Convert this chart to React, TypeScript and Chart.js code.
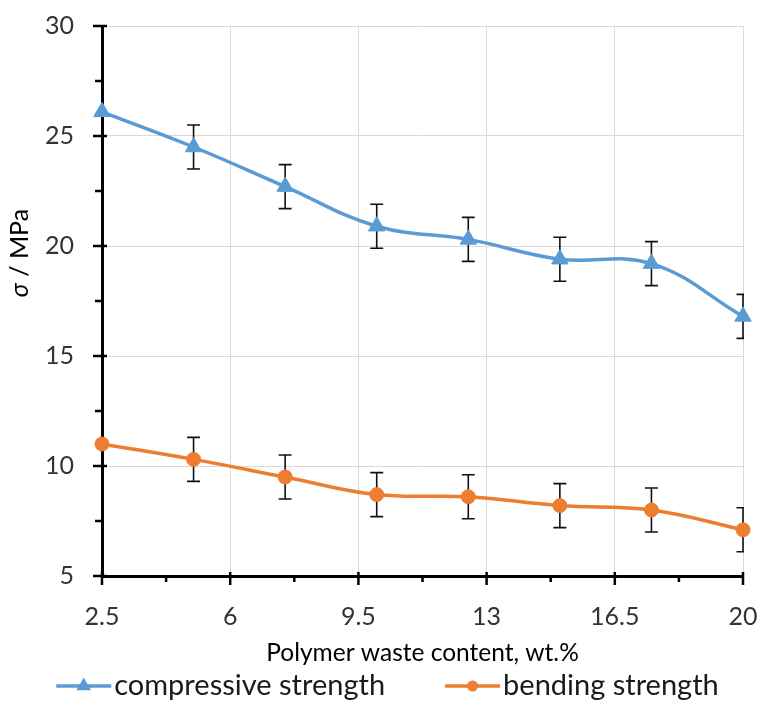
import { useEffect, useRef } from 'react';
import { Chart, registerables } from 'chart.js';

Chart.register(...registerables);

// ---- data ----
const xValues = [2.5, 5, 7.5, 10, 12.5, 15, 17.5, 20];
const compressive = [26.1, 24.5, 22.7, 20.9, 20.3, 19.4, 19.2, 16.8];
const compressiveErr = [0, 1, 1, 1, 1, 1, 1, 1];
const bending = [11.0, 10.3, 9.5, 8.7, 8.6, 8.2, 8.0, 7.1];
const bendingErr = [0, 1, 1, 1, 1, 1, 1, 1];
const xTicks = [2.5, 6, 9.5, 13, 16.5, 20];
const xMinorTicks = [4.25, 7.75, 11.25, 14.75, 18.25];
const yTicks = [5, 10, 15, 20, 25, 30];
const yMinorTicks = [7.5, 12.5, 17.5, 22.5, 27.5];
const seriesNames = ['compressive strength', 'bending strength'];
const xTitle = 'Polymer waste content, wt.%';
const yTitleSymbol = 'σ';
const yTitleRest = ' / MPa';

const FONT = 'Lato, "Open Sans", "DejaVu Sans", sans-serif';
const BLUE = '#5b9bd5';
const ORANGE = '#ed7d31';

const errorSets = [
  { values: compressive, errs: compressiveErr },
  { values: bending, errs: bendingErr },
];

const axisTicksPlugin = {
  id: 'axisTicks',
  beforeDatasetsDraw(chart: any) {
    const { ctx, chartArea, scales } = chart;
    const xs = scales.x;
    const ys = scales.y;
    ctx.save();
    ctx.strokeStyle = '#000';
    ctx.lineWidth = 2.5;
    ctx.beginPath();
    const b = chartArea.bottom;
    const l = chartArea.left;
    xTicks.forEach((v) => {
      const p = xs.getPixelForValue(v);
      ctx.moveTo(p, b - 4);
      ctx.lineTo(p, b + 9);
    });
    xMinorTicks.forEach((v) => {
      const p = xs.getPixelForValue(v);
      ctx.moveTo(p, b);
      ctx.lineTo(p, b + 6);
    });
    yTicks.forEach((v) => {
      const p = ys.getPixelForValue(v);
      ctx.moveTo(l - 9, p);
      ctx.lineTo(l + 5, p);
    });
    yMinorTicks.forEach((v) => {
      const p = ys.getPixelForValue(v);
      ctx.moveTo(l - 7, p);
      ctx.lineTo(l, p);
    });
    ctx.stroke();

    // error bars
    ctx.beginPath();
    ctx.rect(chartArea.left - 20, chartArea.top - 20, chartArea.right - chartArea.left + 21, chartArea.bottom - chartArea.top + 40);
    ctx.clip();
    ctx.lineWidth = 1.6;
    ctx.strokeStyle = '#111';
    ctx.beginPath();
    errorSets.forEach(({ values, errs }) => {
      values.forEach((v, i) => {
        const e = errs[i];
        if (!e) return;
        const px = xs.getPixelForValue(xValues[i]);
        const top = ys.getPixelForValue(v + e);
        const bot = ys.getPixelForValue(v - e);
        ctx.moveTo(px, top);
        ctx.lineTo(px, bot);
        ctx.moveTo(px - 6.5, top);
        ctx.lineTo(px + 6.5, top);
        ctx.moveTo(px - 6.5, bot);
        ctx.lineTo(px + 6.5, bot);
      });
    });
    ctx.stroke();
    ctx.restore();
  },
  afterDraw(chart: any) {
    const { ctx, chartArea } = chart;
    ctx.save();
    // y title with italic sigma
    const cy = (chartArea.top + chartArea.bottom) / 2 - 48;
    const cx = 20;
    ctx.translate(cx, cy);
    ctx.rotate(-Math.PI / 2);
    ctx.fillStyle = '#000';
    ctx.textBaseline = 'middle';
    ctx.textAlign = 'left';
    const italic = `italic 25px ${FONT}`;
    const normal = `25px ${FONT}`;
    ctx.font = italic;
    const w1 = ctx.measureText(yTitleSymbol).width;
    ctx.font = normal;
    const w2 = ctx.measureText(yTitleRest).width;
    const start = -(w1 + w2) / 2;
    ctx.font = italic;
    ctx.fillText(yTitleSymbol, start, 0);
    ctx.font = normal;
    ctx.fillText(yTitleRest, start + w1, 0);
    ctx.restore();

    // legend
    ctx.save();
    ctx.font = `29px ${FONT}`;
    ctx.textBaseline = 'middle';
    ctx.textAlign = 'left';
    const lineLen = 55;
    const gapText = 3;
    const gapItem = 60;
    const dss = chart.data.datasets;
    const widths = dss.map((d: any) => ctx.measureText(d.label).width);
    const total = widths.reduce((a: number, w: number) => a + lineLen + gapText + w, 0) + gapItem * (dss.length - 1);
    let x = chart.width / 2 + 8 - total / 2;
    const y = chartArea.bottom + 110;
    dss.forEach((d: any, i: number) => {
      ctx.strokeStyle = d.borderColor;
      ctx.fillStyle = d.borderColor;
      ctx.lineWidth = 3.5;
      ctx.beginPath();
      ctx.moveTo(x, y);
      ctx.lineTo(x + lineLen, y);
      ctx.stroke();
      const mx = x + lineLen / 2;
      ctx.beginPath();
      if (d.pointStyle === 'triangle') {
        const r = 8.5;
        ctx.moveTo(mx, y - r);
        ctx.lineTo(mx + r * 0.866, y + r * 0.5);
        ctx.lineTo(mx - r * 0.866, y + r * 0.5);
        ctx.closePath();
      } else {
        ctx.arc(mx, y, 5.5, 0, Math.PI * 2);
      }
      ctx.fill();
      ctx.fillStyle = '#1a1a1a';
      ctx.fillText(d.label, x + lineLen + gapText, y);
      x += lineLen + gapText + widths[i] + gapItem;
    });
    ctx.restore();
  },
};

export default function App() {
  const ref = useRef<HTMLCanvasElement | null>(null);
  useEffect(() => {
    const canvas = ref.current;
    if (!canvas) return;
    const chart = new Chart(canvas, {
      type: 'line',
      data: {
        datasets: [
          {
            label: seriesNames[0],
            data: xValues.map((x, i) => ({ x, y: compressive[i] })),
            borderColor: BLUE,
            backgroundColor: BLUE,
            borderWidth: 3.5,
            pointStyle: 'triangle',
            pointRadius: 9.5,
            pointBorderWidth: 1,
            pointBackgroundColor: BLUE,
            pointBorderColor: BLUE,
            tension: 0.4,
            clip: false as any,
          },
          {
            label: seriesNames[1],
            data: xValues.map((x, i) => ({ x, y: bending[i] })),
            borderColor: ORANGE,
            backgroundColor: ORANGE,
            borderWidth: 3.5,
            pointStyle: 'circle',
            pointRadius: 7,
            pointBorderWidth: 1,
            pointBackgroundColor: ORANGE,
            pointBorderColor: ORANGE,
            tension: 0.4,
            clip: false as any,
          },
        ],
      },
      options: {
        responsive: false,
        animation: false,
        devicePixelRatio: 1,
        layout: { padding: { left: 0, right: 16, top: 26, bottom: 0 } },
        plugins: {
          legend: { display: false },
          tooltip: { enabled: false },
        },
        scales: {
          x: {
            type: 'linear',
            min: 2.5,
            max: 20,
            afterBuildTicks: (s: any) => {
              s.ticks = xTicks.map((v) => ({ value: v }));
            },
            afterFit: (s: any) => {
              s.height = 128;
              s.paddingLeft = 0;
              s.paddingRight = 0;
            },
            grid: { color: '#d9d9d9', lineWidth: 1, drawTicks: false },
            border: { display: true, color: '#000', width: 3 },
            ticks: {
              font: { family: FONT, size: 25 },
              color: '#333333',
              padding: 26,
              maxRotation: 0,
              autoSkip: false,
              callback: (v: any) => String(v),
            },
            title: {
              display: true,
              text: xTitle,
              font: { family: FONT, size: 24.5 },
              color: '#000',
              padding: { top: 0, bottom: 36 },
            },
          },
          y: {
            type: 'linear',
            min: 5,
            max: 30,
            afterBuildTicks: (s: any) => {
              s.ticks = yTicks.map((v) => ({ value: v }));
            },
            afterFit: (s: any) => {
              s.width = 102;
              s.paddingTop = 0;
              s.paddingBottom = 0;
            },
            grid: { color: '#d9d9d9', lineWidth: 1, drawTicks: false },
            border: { display: true, color: '#000', width: 3 },
            ticks: {
              font: { family: FONT, size: 25 },
              color: '#333333',
              padding: 28,
              callback: (v: any) => String(v),
            },
          },
        },
      },
      plugins: [axisTicksPlugin],
    } as any);
    return () => chart.destroy();
  }, []);
  return (
    <div style={{ position: 'absolute', left: 0, top: 0, width: 759, height: 704, background: '#fff' }}>
      <canvas ref={ref} width={759} height={704} style={{ display: 'block', width: 759, height: 704 }} />
    </div>
  );
}
